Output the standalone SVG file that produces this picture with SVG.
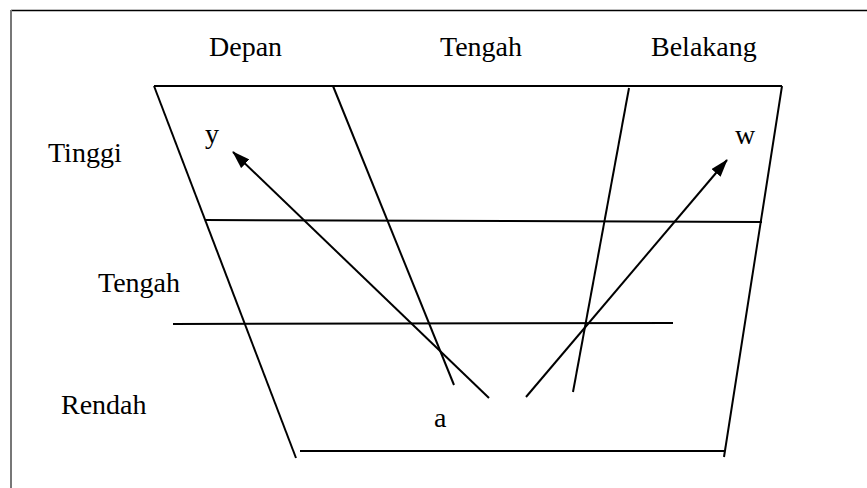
<svg xmlns="http://www.w3.org/2000/svg" width="867" height="488" viewBox="0 0 867 488">
<style>
.ln{stroke:#000;stroke-width:2;fill:none}
.t{font-family:"Liberation Serif","Times New Roman",serif;font-size:28px;fill:#000}
</style>
<defs>
<marker id="ah" markerWidth="18" markerHeight="12" refX="17" refY="6" orient="auto" markerUnits="userSpaceOnUse">
<path d="M0,0 L18,6 L0,12 Z" fill="#000"/>
</marker>
</defs>
<rect width="867" height="488" fill="#fff"/>
<g id="frame">
<line x1="11" y1="10.5" x2="867" y2="10.5" stroke="#000" stroke-width="1.5"/>
<line x1="11" y1="10" x2="11" y2="488" stroke="#777" stroke-width="2"/>
</g>
<g id="labels">
<text id="depan" class="t" x="209" y="56">Depan</text>
<text id="tengah-top" class="t" x="440" y="56">Tengah</text>
<text id="belakang" class="t" x="651" y="56">Belakang</text>
<text id="tinggi" class="t" x="48" y="162">Tinggi</text>
<text id="tengah-left" class="t" x="98" y="292">Tengah</text>
<text id="rendah" class="t" x="61" y="414">Rendah</text>
<text id="y" class="t" x="205" y="143">y</text>
<text id="w" class="t" x="735" y="144">w</text>
<text id="a" class="t" x="434" y="427">a</text>
</g>
<g id="grid">
<line class="ln" x1="154" y1="86" x2="782" y2="86"/>
<line class="ln" x1="154" y1="86" x2="296" y2="458"/>
<line class="ln" x1="782" y1="86" x2="724" y2="457"/>
<line class="ln" x1="300" y1="451" x2="724" y2="451"/>
<line class="ln" x1="333" y1="86" x2="454" y2="385"/>
<line class="ln" x1="629" y1="88" x2="573" y2="392"/>
<line class="ln" x1="205" y1="220" x2="762" y2="222"/>
<line class="ln" x1="173" y1="324" x2="673" y2="323"/>
</g>
<g id="connectors">
<line class="ln" x1="489" y1="398" x2="233" y2="152" marker-end="url(#ah)"/>
<line class="ln" x1="526" y1="397" x2="727" y2="160" marker-end="url(#ah)"/>
</g>
</svg>
